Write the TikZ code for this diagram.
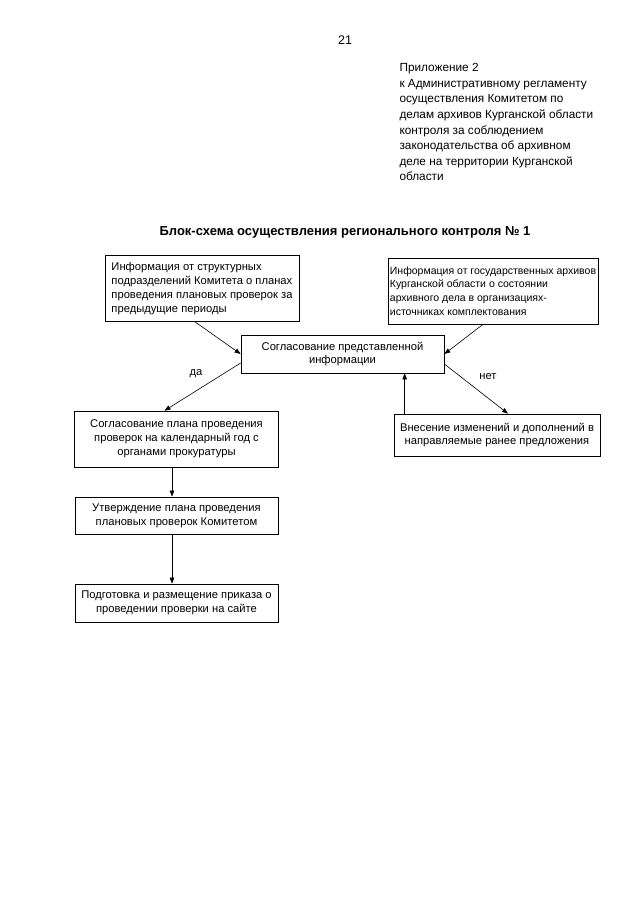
\documentclass[tikz,border=0pt]{standalone}
\usepackage{fontspec}
\setmainfont{Liberation Sans}
\usetikzlibrary{arrows.meta}

\begin{document}
\begin{tikzpicture}[
  x=1pt,y=-1pt,
  font=\fontsize{11.2}{13.8}\selectfont,
  box/.style={draw,line width=0.7pt,align=center,inner sep=0pt},
  leftbox/.style={box,align=left},
  arrow/.style={-{Triangle[length=6pt,width=4.5pt]},line width=0.6pt}
]
\useasboundingbox (0,0) rectangle (640,905);

\node (pagenum) at (345,40) {\fontsize{12.5}{15}\selectfont 21};
\node[anchor=north west,align=left,font=\fontsize{11.8}{15.6}\selectfont] (appendix) at (396,60)
 {Приложение 2\\к Административному регламенту\\осуществления Комитетом по\\делам архивов Курганской области\\контроля за соблюдением\\законодательства об архивном\\деле на территории Курганской\\области};
\node[font=\bfseries\fontsize{13}{15}\selectfont] (title) at (345,232)
 {Блок-схема осуществления регионального контроля № 1};

% source information
\node[leftbox,minimum width=194,minimum height=66] (infoA) at (202,288.5)
 {Информация от структурных\\подразделений Комитета о планах\\проведения плановых проверок за\\предыдущие периоды};
\node[leftbox,minimum width=210,minimum height=66,font=\fontsize{10.5}{13.8}\selectfont] (infoB) at (493,291)
 {Информация от государственных архивов\\Курганской области о состоянии\\архивного дела в организациях-\\источниках комплектования};

\node[box,minimum width=203,minimum height=38] (agree) at (342.5,354)
 {Согласование представленной\\информации};
\draw[arrow] ([xshift=-7pt]infoA.south) -- (agree.west);
\draw[arrow] ([xshift=-10pt]infoB.south) -- (agree.east);

% yes / no branches
\node[box,minimum width=204,minimum height=56] (plan) at (176.5,439)
 {Согласование плана проведения\\проверок на календарный год с\\органами прокуратуры};
\node[box,minimum width=206,minimum height=42] (amend) at (497,435)
 {Внесение изменений и дополнений в\\направляемые ранее предложения};
\draw[arrow] ([yshift=-9pt]agree.west) -- ([xshift=-12pt]plan.north);
\draw[arrow] ([yshift=-10pt]agree.east) -- ([xshift=11pt]amend.north);
\draw[arrow] ([xshift=11pt]amend.north west) -- ([xshift=11pt]amend.north west |- agree.south);
\node (yes) at (196,374) {да};
\node (no) at (488,377) {нет};

\node[box,minimum width=203,minimum height=37] (approve) at (176.5,515.5)
 {Утверждение плана проведения\\плановых проверок Комитетом};
\node[box,minimum width=203,minimum height=38] (publish) at (176.5,603)
 {Подготовка и размещение приказа о\\проведении проверки на сайте};
\draw[arrow] ([xshift=-4.5pt]plan.south) -- ([xshift=-4.5pt]approve.north);
\draw[arrow] ([xshift=-4.5pt]approve.south) -- ([xshift=-4.5pt]publish.north);
\end{tikzpicture}
\end{document}
